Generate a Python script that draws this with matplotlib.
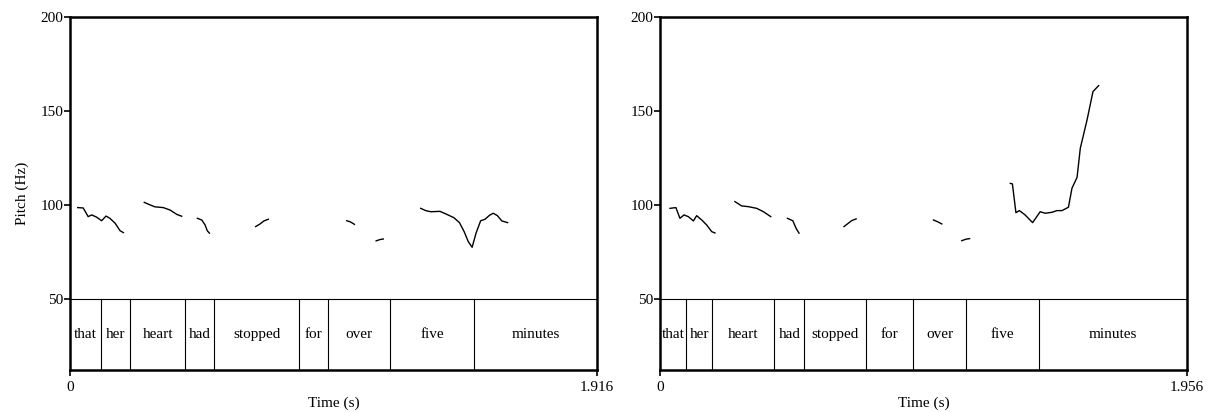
import matplotlib
matplotlib.use("Agg")
import matplotlib.pyplot as plt

plt.rcParams['font.family'] = ['Liberation Serif', 'DejaVu Serif']

words = ["that", "her", "heart", "had", "stopped", "for", "over", "five", "minutes"]

# Panel 1 (statement)
dur1 = 1.916
bounds1 = [0.0, 0.1127, 0.219, 0.419, 0.525, 0.834, 0.937, 1.165, 1.470, 1.916]
p1_segments = [
    ([0.028, 0.048, 0.066, 0.079, 0.097, 0.115, 0.131, 0.145, 0.164, 0.182, 0.194],
     [98.6, 98.4, 93.8, 94.7, 93.5, 91.6, 94.1, 92.9, 90.3, 86.3, 85.3]),
    ([0.270, 0.285, 0.309, 0.339, 0.364, 0.388, 0.406],
     [101.4, 100.4, 99.0, 98.6, 97.3, 95.0, 94.0]),
    ([0.463, 0.479, 0.491, 0.499, 0.507],
     [92.9, 92.0, 89.4, 86.3, 85.0]),
    ([0.675, 0.691, 0.705, 0.721],
     [88.5, 89.9, 91.5, 92.4]),
    ([1.006, 1.018, 1.034],
     [91.6, 91.1, 89.7]),
    ([1.113, 1.127, 1.139],
     [80.9, 81.6, 81.9]),
    ([1.275, 1.295, 1.312, 1.345, 1.370, 1.396, 1.416, 1.433, 1.448, 1.462,
      1.476, 1.493, 1.509, 1.525, 1.539, 1.554, 1.570, 1.591],
     [98.2, 96.9, 96.4, 96.6, 95.0, 93.2, 90.6, 85.8, 80.5, 77.5,
      84.9, 91.6, 92.4, 94.5, 95.6, 94.3, 91.5, 90.6]),
]

# Panel 2 (question)
dur2 = 1.956
bounds2 = [0.0, 0.0977, 0.194, 0.424, 0.536, 0.765, 0.9406, 1.134, 1.405, 1.956]
p2_segments = [
    ([0.037, 0.059, 0.074, 0.089, 0.105, 0.124, 0.136, 0.155, 0.173, 0.192, 0.204],
     [98.2, 98.6, 92.9, 94.7, 93.8, 91.5, 94.3, 92.0, 89.4, 85.8, 85.1]),
    ([0.278, 0.303, 0.328, 0.359, 0.384, 0.411],
     [101.8, 99.5, 99.1, 98.2, 96.4, 93.8]),
    ([0.473, 0.493, 0.505, 0.516],
     [92.9, 91.6, 87.6, 85.0]),
    ([0.683, 0.699, 0.712, 0.728],
     [88.5, 90.3, 91.7, 92.6]),
    ([1.015, 1.030, 1.046],
     [92.0, 91.1, 89.9]),
    ([1.120, 1.136, 1.149],
     [81.0, 81.8, 82.1]),
    ([1.300, 1.308, 1.321, 1.334, 1.355, 1.383, 1.411, 1.430, 1.455, 1.473,
      1.492, 1.516, 1.529, 1.548, 1.560, 1.585, 1.607, 1.628],
     [111.5, 111.2, 95.9, 97.0, 94.7, 90.6, 96.4, 95.6, 96.1, 97.0,
      97.0, 98.8, 108.9, 114.7, 130.2, 145.2, 160.3, 163.5]),
]

y_ticks = [50, 100, 150, 200]
y_bottom = 12.2
y_top = 200
tier_top = 50

fig = plt.figure(figsize=(12.10, 4.12), dpi=100)
ax1 = fig.add_axes([70/1210, 1-370/412, 527/1210, 353/412])
ax2 = fig.add_axes([660/1210, 1-370/412, 527/1210, 353/412])


def draw(ax, dur, bounds, segs, ylabel):
    for xs, ys in segs:
        ax.plot(xs, ys, color='black', lw=1.0)
    ax.axhline(tier_top, color='black', lw=0.8)
    for b in bounds[1:-1]:
        ax.plot([b, b], [y_bottom, tier_top], color='black', lw=0.8)
    for w, a, b in zip(words, bounds[:-1], bounds[1:]):
        ax.text((a + b) / 2, (y_bottom + tier_top) / 2, w, ha='center', va='center',
                fontsize=11)
    ax.set_xlim(0, dur)
    ax.set_ylim(y_bottom, y_top)
    ax.set_yticks(y_ticks)
    ax.set_yticklabels([str(t) for t in y_ticks], fontsize=11)
    ax.set_xticks([0, dur])
    ax.set_xticklabels(['0', f'{dur:.3f}'], fontsize=11)
    ax.tick_params(axis='y', length=4, width=1.2, pad=1)
    ax.tick_params(axis='x', length=4, width=1.2, pad=4)
    for s in ax.spines.values():
        s.set_linewidth(1.8)
    ax.set_xlabel('Time (s)', fontsize=11, labelpad=2)
    if ylabel:
        ax.set_ylabel('Pitch (Hz)', fontsize=11, labelpad=8)


draw(ax1, dur1, bounds1, p1_segments, True)
draw(ax2, dur2, bounds2, p2_segments, False)

fig.savefig('out.png', dpi=100)
